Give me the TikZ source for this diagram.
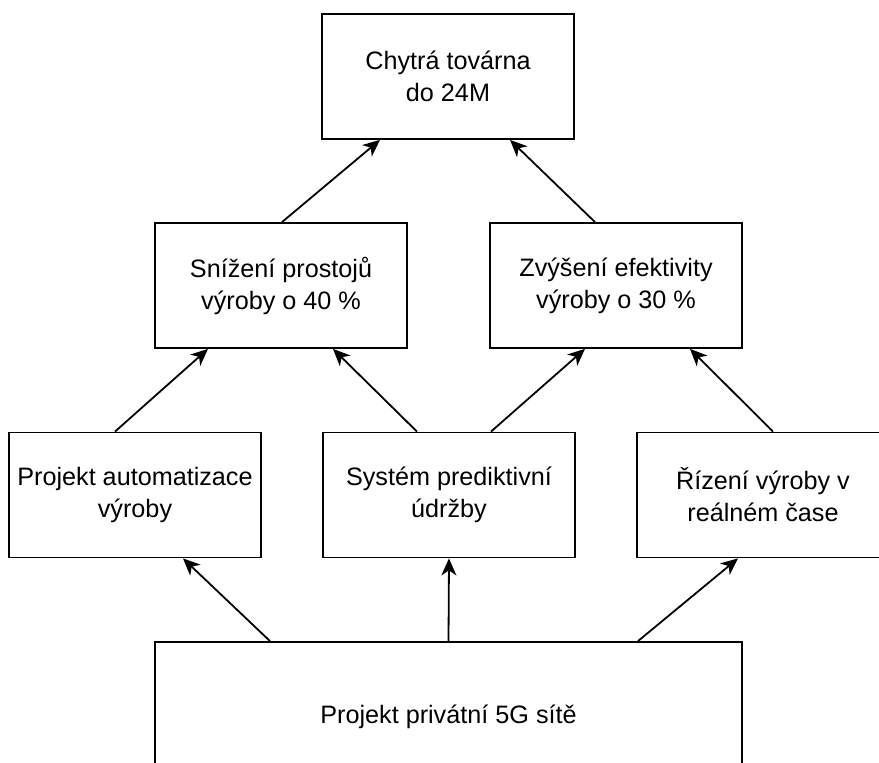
\documentclass[tikz,border=0pt]{standalone}
\usepackage{fontspec}
\setmainfont{Liberation Sans}
\usepackage{tikz}
\usetikzlibrary{arrows.meta}

\begin{document}
\begin{tikzpicture}[x=1pt,y=-1pt]
\tikzstyle{every node}=[font=\fontsize{25.2}{32}\selectfont]
\tikzstyle{blok}=[draw, line width=1.8pt, minimum width=252pt, minimum height=125pt, inner sep=0pt, align=center]
\tikzstyle{sipka}=[->, >={Stealth[length=17pt,width=15pt,inset=5pt]}, line width=1.8pt]
\useasboundingbox (0,0) rectangle (879,763);
\clip (0,0) rectangle (879,763);
% cil
\node [blok] (cil) at (448,76.5) {Chytrá továrna\\do 24M};
% prinosy
\node [blok] (prostoje) at (281,285.5) {Snížení prostojů\\výroby o 40 \%};
\node [blok] (efektivita) at (616,285.5) {Zvýšení efektivity\\výroby o 30 \%};
% projekty
\node [blok] (automatizace) at (135,495) {Projekt automatizace\\výroby};
\node [blok] (udrzba) at (449,495) {Systém prediktivní\\údržby};
\node [blok] (rizeni) at (763,495) {Řízení výroby v\\reálném čase};
% sit
\node [blok, minimum width=587pt, minimum height=150pt] (sit) at (448.5,717) {Projekt privátní 5G sítě};
\draw [sipka] ([xshift=1pt]prostoje.north) -- ([xshift=-68pt]cil.south);
\draw [sipka] ([xshift=-21pt]efektivita.north) -- ([xshift=62pt]cil.south);
\draw [sipka] ([xshift=-20pt]automatizace.north) -- ([xshift=-73pt]prostoje.south);
\draw [sipka] ([xshift=-32pt]udrzba.north) -- ([xshift=52pt]prostoje.south);
\draw [sipka] ([xshift=42pt]udrzba.north) -- ([xshift=-31pt]efektivita.south);
\draw [sipka] ([xshift=10pt]rizeni.north) -- ([xshift=74pt]efektivita.south);
\draw [sipka] ([xshift=-178.5pt]sit.north) -- ([xshift=48pt]automatizace.south);
\draw [sipka] (sit.north) -- (udrzba.south);
\draw [sipka] ([xshift=189.5pt]sit.north) -- ([xshift=-25pt]rizeni.south);
\end{tikzpicture}
\end{document}
